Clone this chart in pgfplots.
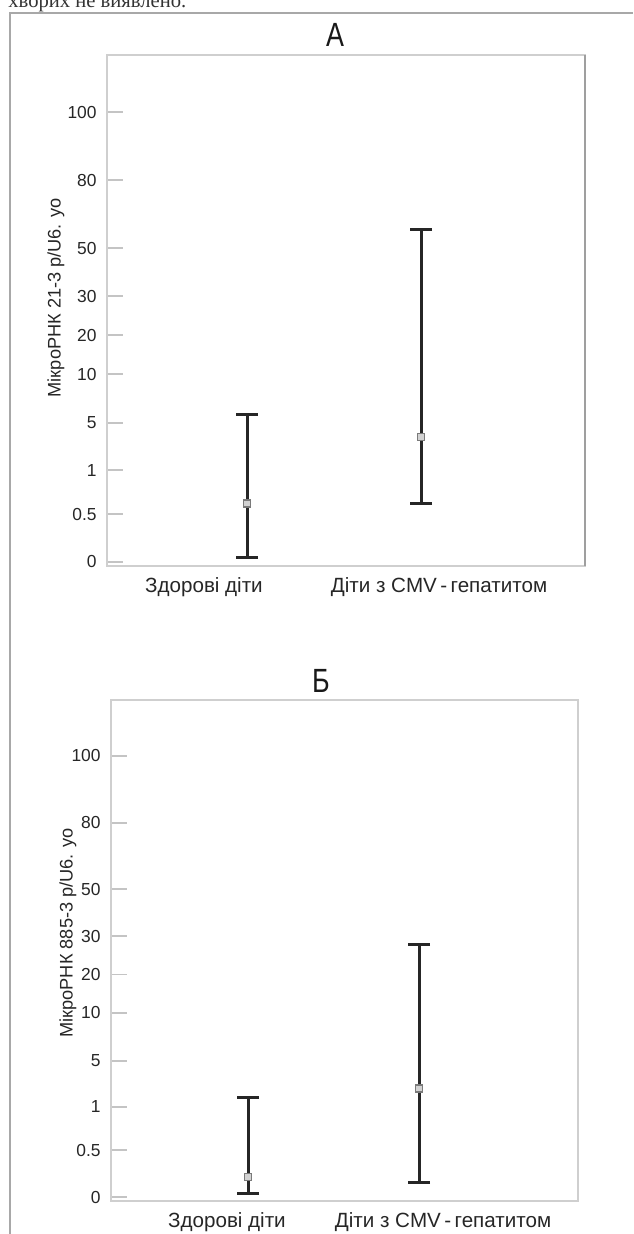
\documentclass[border=0pt]{standalone}
\usepackage{fontspec}
\setmainfont{Liberation Sans}
\newfontfamily\titlefont[FakeStretch=0.8]{Liberation Sans}
\newfontfamily\serifpart{Liberation Serif}
\usepackage{pgfplots}
\pgfplotsset{compat=1.18}

\definecolor{boxgray}{HTML}{CFCFCF}
\definecolor{framegray}{HTML}{A8A8A8}
\definecolor{tickgray}{HTML}{C4C4C4}
\definecolor{barblack}{HTML}{262626}
\definecolor{meangray}{HTML}{7A7A7A}

% the value axis is stretched piecewise between its ticks
\pgfplotsset{
  y coord trafo/.code={\pgfmathparse{#1<0.5 ? 4+96*#1 : (#1<1 ? 52+88*(#1-0.5) : (#1<5 ? 96+11.75*(#1-1) : (#1<10 ? 143+9.8*(#1-5) : (#1<20 ? 192+3.9*(#1-10) : (#1<30 ? 231+3.9*(#1-20) : (#1<50 ? 270+2.4*(#1-30) : (#1<80 ? 318+2.26667*(#1-50) : 386+3.4*(#1-80))))))))}},
  panel/.style={
    scale only axis,
    axis line style={boxgray, line width=1pt},
    ymin=-0.0417, ymax=116.8,
    ytick={0,0.5,1,5,10,20,30,50,80,100},
    yticklabels={0,0.5,1,5,10,20,30,50,80,100},
    ytick align=inside, ytick pos=left,
    major tick length=8pt,
    ytick style={tickgray, line width=0.9pt},
    xtick style={draw=none},
    yticklabel style={font=\fontsize{8.7}{10}\selectfont, text=black!85, anchor=east, inner sep=0pt, xshift=-5pt},
    xticklabel style={font=\fontsize{10.3}{12}\selectfont, text=black!85, anchor=center, inner sep=0pt, yshift=-10.5pt},
    ylabel style={font=\fontsize{9.1}{11}\selectfont, text=black!85, anchor=center},
    clip=false,
  },
  errbar/.style={barblack, line width=1.5pt, mark=-, mark size=5.5pt, mark options={line width=1.5pt}},
  avg/.style={only marks, mark=square*, mark size=1.75pt, mark options={draw=meangray, fill=gray!35, line width=0.6pt}},
}

\begin{document}
\begin{tikzpicture}
\path[use as bounding box] (0,0) rectangle (316.5pt,-617pt);
\draw[framegray, line width=0.8pt] (5pt,-617pt) -- (5pt,-6.5pt) -- (316.5pt,-6.5pt);
\node[anchor=base west, inner sep=0pt, font=\serifpart\fontsize{10.3}{12}\selectfont, text=black!80] at (4pt,-4pt) {хворих не виявлено.};

\node[anchor=base, inner sep=0pt, font=\titlefont\fontsize{16.8}{18}\selectfont, text=black!90] at (167.5pt,-23.5pt) {A};
\node[anchor=base, inner sep=0pt, font=\titlefont\fontsize{16.8}{18}\selectfont, text=black!90] at (160.5pt,-346pt) {Б};

% panel A
\begin{axis}[panel,
  at={(53.5pt,-283pt)}, anchor=south west,
  width=239pt, height=255.5pt,
  xmin=107, xmax=585,
  xtick={204,439},
  xticklabels={Здорові діти, Діти з CMV\,-\,гепатитом},
  ylabel={МікроРНК 21-3 р/U6. уо},
  ylabel style={at={(axis description cs:-0.107,0.525)}},
]
\addplot[errbar] coordinates {(247,0.05) (247,5.9)};
\addplot[errbar] coordinates {(421,0.62) (421,58)};
\addplot[avg] coordinates {(247,0.62) (421,3.8)};
\draw[gray!75, line width=1pt] (rel axis cs:1,0) -- (rel axis cs:1,1);
\end{axis}

% panel B
\begin{axis}[panel,
  at={(55.5pt,-600.5pt)}, anchor=south west,
  width=233.5pt, height=250.5pt,
  xmin=111, xmax=578,
  xtick={227,443},
  xticklabels={Здорові діти, Діти з CMV\,-\,гепатитом},
  ylabel={МікроРНК 885-3 р/U6. уо},
  ylabel style={at={(axis description cs:-0.092,0.535)}},
]
\addplot[errbar] coordinates {(248,0.04) (248,1.8)};
\addplot[errbar] coordinates {(419,0.16) (419,28)};
\addplot[avg] coordinates {(248,0.21) (419,2.6)};
\end{axis}
\end{tikzpicture}
\end{document}
